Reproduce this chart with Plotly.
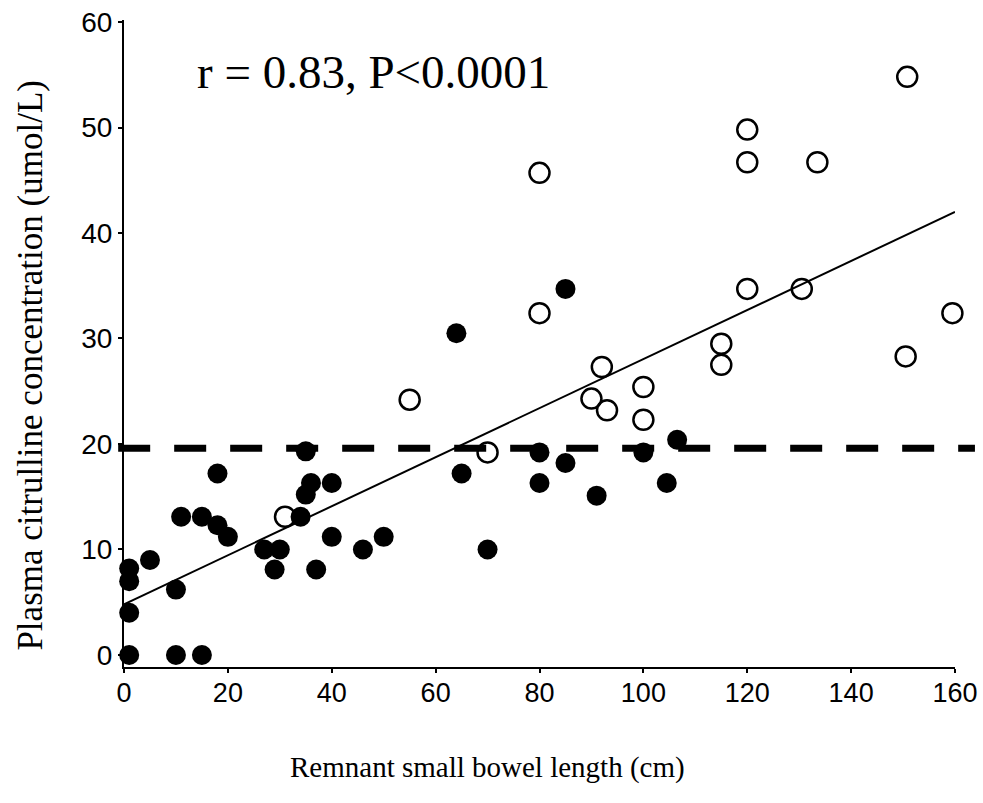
import plotly.graph_objects as go

# Data
filled_x = [1, 10, 15, 1, 1, 1, 5, 10, 11, 15, 18, 18, 20, 27, 30, 29, 34, 35, 36, 35, 40, 40, 37, 46, 50,
            64, 85, 65, 80, 80, 85, 91, 100, 104.5, 106.5, 70]
filled_y = [0, 0, 0, 4, 7, 8.2, 9, 6.2, 13.1, 13.1, 17.2, 12.3, 11.2, 10, 10, 8.1, 13.1, 15.2, 16.3, 19.3, 16.3, 11.2, 8.1, 10, 11.2,
            30.5, 34.7, 17.2, 19.2, 16.3, 18.2, 15.1, 19.2, 16.3, 20.4, 10]

open_x = [31, 55, 70, 80, 92, 90, 93, 100, 100, 115, 115, 150.8, 120, 120, 133.5, 80, 120, 130.5, 159.5, 150.5]
open_y = [13.1, 24.2, 19.2, 32.4, 27.3, 24.3, 23.2, 25.4, 22.3, 29.5, 27.5, 54.8, 49.8, 46.7, 46.7, 45.7, 34.7, 34.7, 32.4, 28.3]

fit_x = [0, 160]
fit_y = [4.8, 42.0]

threshold = 19.6

x_ticks = [0, 20, 40, 60, 80, 100, 120, 140, 160]
y_ticks = [0, 10, 20, 30, 40, 50, 60]

annotation_text = "r = 0.83, P<0.0001"
x_title = "Remnant small bowel length (cm)"
y_title = "Plasma citrulline concentration (umol/L)"

fig = go.Figure()

fig.add_trace(go.Scatter(
    x=fit_x, y=fit_y, mode="lines",
    line=dict(color="black", width=2), showlegend=False, hoverinfo="skip"))

fig.add_trace(go.Scatter(
    x=filled_x, y=filled_y, mode="markers",
    marker=dict(symbol="circle", size=20, color="black", line=dict(width=0)),
    cliponaxis=False, showlegend=False))

fig.add_trace(go.Scatter(
    x=open_x, y=open_y, mode="markers",
    marker=dict(symbol="circle-open", size=20, color="black", line=dict(width=2.5, color="black")),
    cliponaxis=False, showlegend=False))

fig.add_shape(type="line", xref="paper", yref="y", x0=-0.007, x1=1.024, y0=threshold, y1=threshold,
              line=dict(color="black", width=7, dash="32px,24px"))

fig.add_annotation(x=13.7, y=55.3, xref="x", yref="y", text=annotation_text, showarrow=False,
                   xanchor="left", yanchor="middle",
                   font=dict(family="Liberation Serif", size=47, color="black"))

fig.add_annotation(x=0.437, y=-0.156, xref="paper", yref="paper", text=x_title, showarrow=False,
                   xanchor="center", yanchor="middle",
                   font=dict(family="Liberation Serif", size=29, color="black"))

fig.add_annotation(x=-0.113, y=0.466, xref="paper", yref="paper", text=y_title, showarrow=False,
                   xanchor="center", yanchor="middle", textangle=-90,
                   font=dict(family="Liberation Serif", size=35, color="black"))

fig.update_layout(
    width=983, height=803,
    margin=dict(l=124, r=28, t=20, b=136, autoexpand=False),
    paper_bgcolor="white", plot_bgcolor="white",
    showlegend=False,
    xaxis=dict(range=[0, 160], tickvals=x_ticks, showgrid=False, zeroline=False,
               showline=True, linecolor="black", linewidth=2,
               ticks="outside", ticklen=4, tickwidth=2, tickcolor="black",
               tickfont=dict(family="Liberation Sans", size=27, color="black"),
               ticklabelstandoff=-3),
    yaxis=dict(range=[-1.14, 60.19], tickvals=y_ticks, showgrid=False, zeroline=False,
               showline=True, linecolor="black", linewidth=2,
               ticks="outside", ticklen=4, tickwidth=2, tickcolor="black",
               tickfont=dict(family="Liberation Sans", size=28, color="black"),
               ticklabelstandoff=0),
)

fig.write_html("out.html", config={"displayModeBar": False},
               post_script="document.body.style.margin='0';document.body.style.padding='0';")
